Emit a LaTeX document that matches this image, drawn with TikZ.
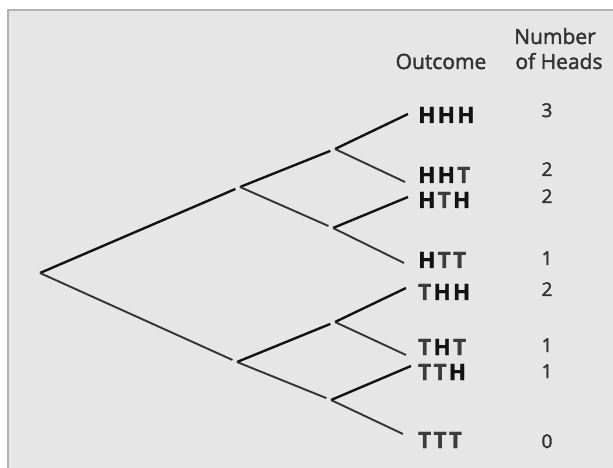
\documentclass[tikz,border=0pt]{standalone}
\usepackage{fontspec}
\setmainfont{Open Sans}
\newfontfamily\headfont{Open Sans}[FakeBold=2]
\newfontfamily\lblfont{Open Sans}[BoldFeatures={FakeBold=1.5}]
\definecolor{panel}{HTML}{E6E6E6}
\definecolor{frame}{HTML}{B2B2B2}
\definecolor{ink}{HTML}{121212}
\definecolor{tailink}{HTML}{3C3C3C}
\definecolor{textgrey}{HTML}{333333}
% letters of an outcome, heads darker than tails, spaced apart
\newcommand\hd{{\color{ink}H}}
\newcommand\tl{{\color{tailink}T}}
\newcommand\gp{\kern2.3bp}
\begin{document}
\begin{tikzpicture}[x=1bp,y=-1bp,
  up/.style={line width=2.4bp, draw=ink},
  down/.style={line width=1.9bp, draw=black!80},
  into/.style={shorten >=5bp},
  head/.style={anchor=base, inner sep=0pt, text=textgrey, font=\headfont\fontsize{21bp}{25bp}\selectfont},
  outc/.style={anchor=base west, inner sep=0pt, font=\lblfont\bfseries\fontsize{22.5bp}{26bp}\selectfont},
  cnt/.style={anchor=base, inner sep=0pt, text=textgrey, font=\headfont\fontsize{19bp}{23bp}\selectfont}]
  % page and panel
  \useasboundingbox (0,0) rectangle (613,468);
  \fill[white] (0,0) rectangle (613,468);
  \fill[panel] (7,9) rectangle (613,468);
  \draw[frame, line width=2bp] (8,468) -- (8,10) -- (613,10);

  % junctions of the tree
  \coordinate (root) at (40,273);
  \coordinate (h) at (240,187);
  \coordinate (t) at (237,362);
  \coordinate (hh) at (335,149);
  \coordinate (ht) at (333,228);
  \coordinate (th) at (335,322);
  \coordinate (tt) at (331,400);
  % free ends of the last branches
  \coordinate (eHHH) at (408,114);
  \coordinate (eHHT) at (405,182);
  \coordinate (eHTH) at (408,197);
  \coordinate (eHTT) at (404,263);
  \coordinate (eTHH) at (406,288);
  \coordinate (eTHT) at (406,355);
  \coordinate (eTTH) at (411,366);
  \coordinate (eTTT) at (403,434);

  % branches
  \draw[up,into] (root) -- (h);
  \draw[down,into] (root) -- (t);
  \draw[up,into] (h) -- (hh);
  \draw[down,into] (h) -- (ht);
  \draw[up,into] (t) -- (th);
  \draw[down,into] (t) -- (tt);
  \draw[up] (hh) -- (eHHH);
  \draw[down] (hh) -- (eHHT);
  \draw[up] (ht) -- (eHTH);
  \draw[down] (ht) -- (eHTT);
  \draw[up] (th) -- (eTHH);
  \draw[down] (th) -- (eTHT);
  \draw[up] (tt) -- (eTTH);
  \draw[down] (tt) -- (eTTT);

  % column headings
  \node[head] (hOut) at (441,69) {Outcome};
  \node[head] (hNum) at (555,44) {Number};
  \node[head] (hOf) at (559,69) {of Heads};

  % outcomes
  \node[outc] (oHHH) at (418,123) {\hd\gp\hd\gp\hd};
  \node[outc] (oHHT) at (418,183) {\hd\gp\hd\gp\tl};
  \node[outc] (oHTH) at (418,208) {\hd\gp\tl\gp\hd};
  \node[outc] (oHTT) at (418,268) {\hd\gp\tl\gp\tl};
  \node[outc] (oTHH) at (418,300) {\tl\gp\hd\gp\hd};
  \node[outc] (oTHT) at (418,355) {\tl\gp\hd\gp\tl};
  \node[outc] (oTTH) at (418,380) {\tl\gp\tl\gp\hd};
  \node[outc] (oTTT) at (418,448) {\tl\gp\tl\gp\tl};

  % number of heads
  \node[cnt] (nHHH) at (547,117) {3};
  \node[cnt] (nHHT) at (547,176) {2};
  \node[cnt] (nHTH) at (547,203) {2};
  \node[cnt] (nHTT) at (547,265) {1};
  \node[cnt] (nTHH) at (547,296) {2};
  \node[cnt] (nTHT) at (547,352) {1};
  \node[cnt] (nTTH) at (547,378) {1};
  \node[cnt] (nTTT) at (547,448) {0};
\end{tikzpicture}
\end{document}
